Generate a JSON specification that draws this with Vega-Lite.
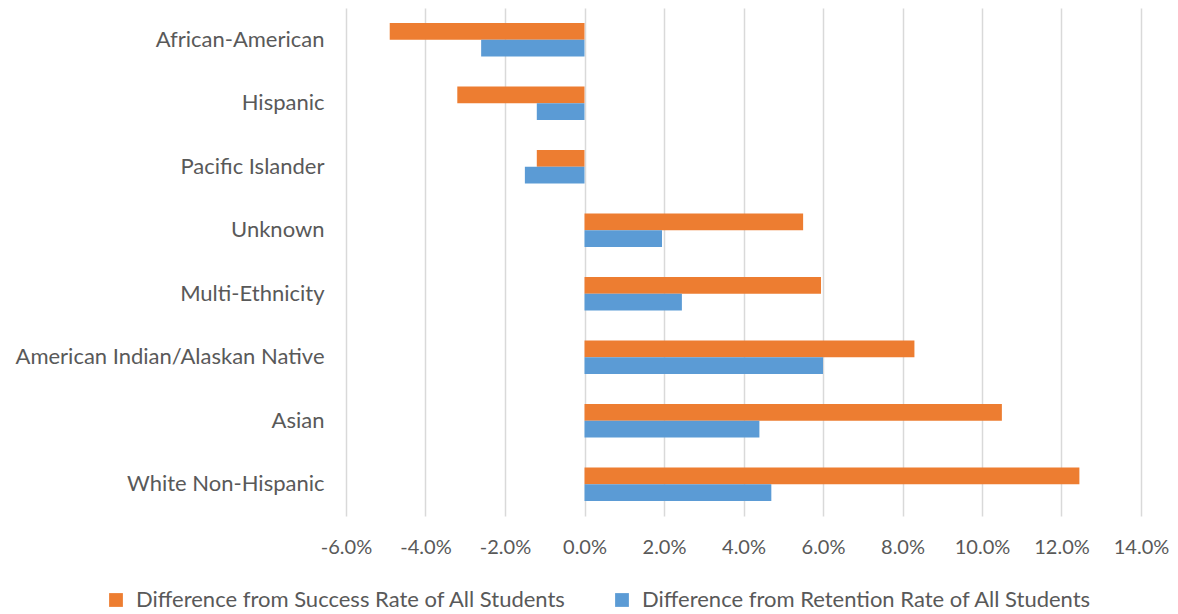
{
  "$schema": "https://vega.github.io/schema/vega-lite/v6.json",
  "width": 795,
  "height": 508,
  "autosize": {"type": "none"},
  "padding": {"left": 346, "top": 8, "right": 37, "bottom": 98},
  "background": "white",
  "config": {"view": {"stroke": null}, "font": "Lato"},
  "data": {
    "values": [
      {"group": "African-American", "series": "Difference from Success Rate of All Students", "value": -0.049},
      {"group": "African-American", "series": "Difference from Retention Rate of All Students", "value": -0.026},
      {"group": "Hispanic", "series": "Difference from Success Rate of All Students", "value": -0.032},
      {"group": "Hispanic", "series": "Difference from Retention Rate of All Students", "value": -0.012},
      {"group": "Pacific Islander", "series": "Difference from Success Rate of All Students", "value": -0.012},
      {"group": "Pacific Islander", "series": "Difference from Retention Rate of All Students", "value": -0.015},
      {"group": "Unknown", "series": "Difference from Success Rate of All Students", "value": 0.055},
      {"group": "Unknown", "series": "Difference from Retention Rate of All Students", "value": 0.0195},
      {"group": "Multi-Ethnicity", "series": "Difference from Success Rate of All Students", "value": 0.0595},
      {"group": "Multi-Ethnicity", "series": "Difference from Retention Rate of All Students", "value": 0.0245},
      {"group": "American Indian/Alaskan Native", "series": "Difference from Success Rate of All Students", "value": 0.083},
      {"group": "American Indian/Alaskan Native", "series": "Difference from Retention Rate of All Students", "value": 0.06},
      {"group": "Asian", "series": "Difference from Success Rate of All Students", "value": 0.105},
      {"group": "Asian", "series": "Difference from Retention Rate of All Students", "value": 0.044},
      {"group": "White Non-Hispanic", "series": "Difference from Success Rate of All Students", "value": 0.1245},
      {"group": "White Non-Hispanic", "series": "Difference from Retention Rate of All Students", "value": 0.047}
    ]
  },
  "mark": {"type": "bar"},
  "encoding": {
    "y": {
      "field": "group",
      "type": "nominal",
      "sort": ["African-American", "Hispanic", "Pacific Islander", "Unknown", "Multi-Ethnicity", "American Indian/Alaskan Native", "Asian", "White Non-Hispanic"],
      "scale": {"paddingInner": 0.475, "paddingOuter": 0.2375},
      "axis": {"title": null, "domain": false, "ticks": false, "tickSize": 0, "labelPadding": 22, "labelFontSize": 22, "labelColor": "#595959", "labelFont": "Lato", "labelLimit": 400}
    },
    "x": {
      "field": "value",
      "type": "quantitative",
      "scale": {"domain": [-0.06, 0.14], "nice": false, "zero": false},
      "axis": {
        "title": null,
        "format": ".1%",
        "labelExpr": "replace(datum.label, '\u2212', '-')",
        "values": [-0.06, -0.04, -0.02, 0, 0.02, 0.04, 0.06, 0.08, 0.1, 0.12, 0.14],
        "labelOverlap": false,
        "labelFlush": false,
        "domain": false,
        "ticks": false,
        "tickSize": 0,
        "labelPadding": 21,
        "labelFontSize": 20,
        "labelColor": "#595959",
        "labelFont": "Lato",
        "gridColor": "#D9D9D9",
        "gridWidth": 1.5
      }
    },
    "yOffset": {
      "field": "series",
      "sort": ["Difference from Success Rate of All Students", "Difference from Retention Rate of All Students"]
    },
    "color": {
      "field": "series",
      "scale": {
        "domain": ["Difference from Success Rate of All Students", "Difference from Retention Rate of All Students"],
        "range": ["#ED7D31", "#5B9BD5"]
      },
      "legend": {
        "title": null,
        "orient": "none",
        "direction": "horizontal",
        "legendX": -241,
        "legendY": 581,
        "symbolType": "square",
        "symbolSize": 190,
        "symbolStrokeWidth": 0,
        "labelFontSize": 22,
        "labelColor": "#595959",
        "labelFont": "Lato",
        "labelOffset": 9,
        "columnPadding": 44,
        "labelLimit": 600
      }
    }
  }
}
